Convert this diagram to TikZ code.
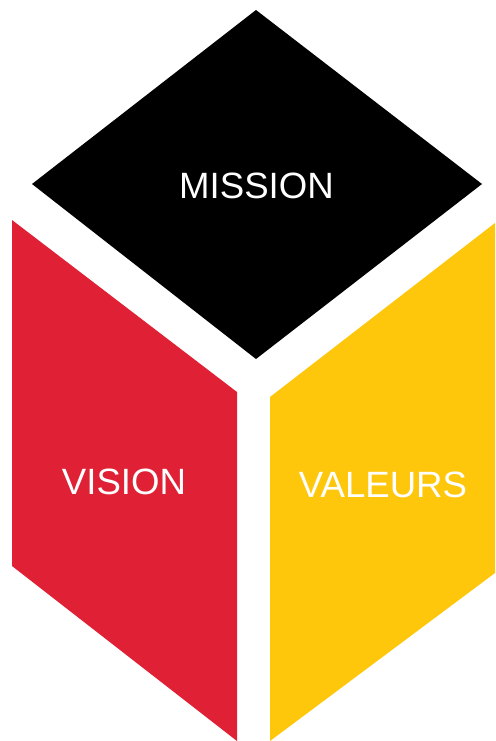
\documentclass[tikz,border=0pt]{standalone}
\usepackage{fontspec}
\setmainfont{Liberation Sans}
\definecolor{cubered}{RGB}{224,32,52}
\definecolor{cubeyellow}{RGB}{254,199,12}
\begin{document}
\begin{tikzpicture}[x=1pt,y=-1pt,
  face/.style={draw=none},
  lbl/.style={text=white,font=\fontsize{36.6}{40}\selectfont,inner sep=0pt}]
\useasboundingbox (0,0) rectangle (495,741);
\fill[black] (256,10) -- (482,184) -- (256,359) -- (32,184) -- cycle;
\fill[cubered] (12,220) -- (237,392) -- (237,741) -- (12,566) -- cycle;
\fill[cubeyellow] (270,397) -- (495,223) -- (495,573) -- (270,741) -- cycle;
\node[lbl] (mission) at (256.5,186) {MISSION};
\node[lbl] (vision) at (124,482) {VISION};
\node[lbl] (valeurs) at (383,485) {VALEURS};
\end{tikzpicture}
\end{document}
